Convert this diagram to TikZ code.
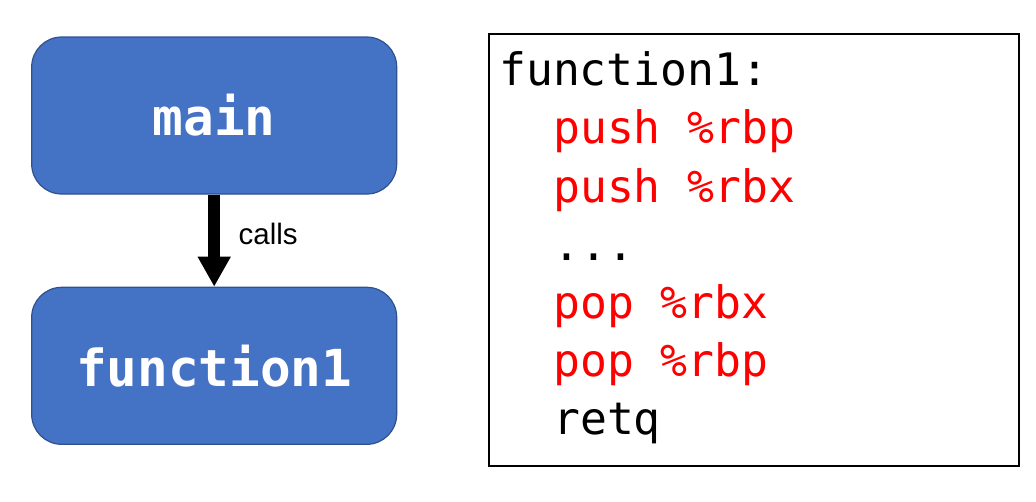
\documentclass[tikz,border=0pt]{standalone}
\usepackage{fontspec}
\setmonofont{DejaVu Sans Mono}
\setsansfont{Liberation Sans}
\usetikzlibrary{arrows.meta,positioning}
\definecolor{boxblue}{HTML}{4472C4}
\definecolor{boxedge}{HTML}{2F528F}
\definecolor{asmred}{HTML}{FF0000}
\newcommand\codedots{...}
\tikzset{
  funcbox/.style={draw=boxedge,line width=1.2pt,fill=boxblue,rounded corners=30pt,
    minimum width=365pt,minimum height=157pt,inner sep=0pt,text=white,
    font=\fontsize{51}{60}\selectfont\ttfamily\bfseries},
  codebox/.style={draw=black,line width=1.5pt,minimum width=530pt,minimum height=432pt,inner sep=0pt},
  codeline/.style={anchor=base west,inner sep=0pt,font=\fontsize{44.7}{58}\selectfont\ttfamily}
}
\begin{document}
\begin{tikzpicture}[x=1pt,y=-1pt]
\useasboundingbox (0,0) rectangle (1036,501);
% call graph
\node[funcbox] (main) at (214.2,115.5) {main};
\node[funcbox] (func) at (214.2,365.8) {function1};
\draw[-{Triangle[width=31pt,length=30pt]},line width=12pt] (main.south)--(func.north);
\node[anchor=base west,inner sep=0pt,font=\fontsize{29.5}{34}\selectfont\sffamily] (calls) at (238.5,244) {calls};
% assembly listing
\node[codebox] (code) at (754,250) {};
\node[codeline] (l0) at (499,85.7) {function1:};
\foreach \txt/\col [count=\i] in {push \%rbp/asmred,push \%rbx/asmred,\codedots/black,pop \%rbx/asmred,pop \%rbp/asmred,retq/black}
  \node[codeline,text=\col] (l\i) at (553,85.7+58.2*\i) {\txt};
\end{tikzpicture}
\end{document}
